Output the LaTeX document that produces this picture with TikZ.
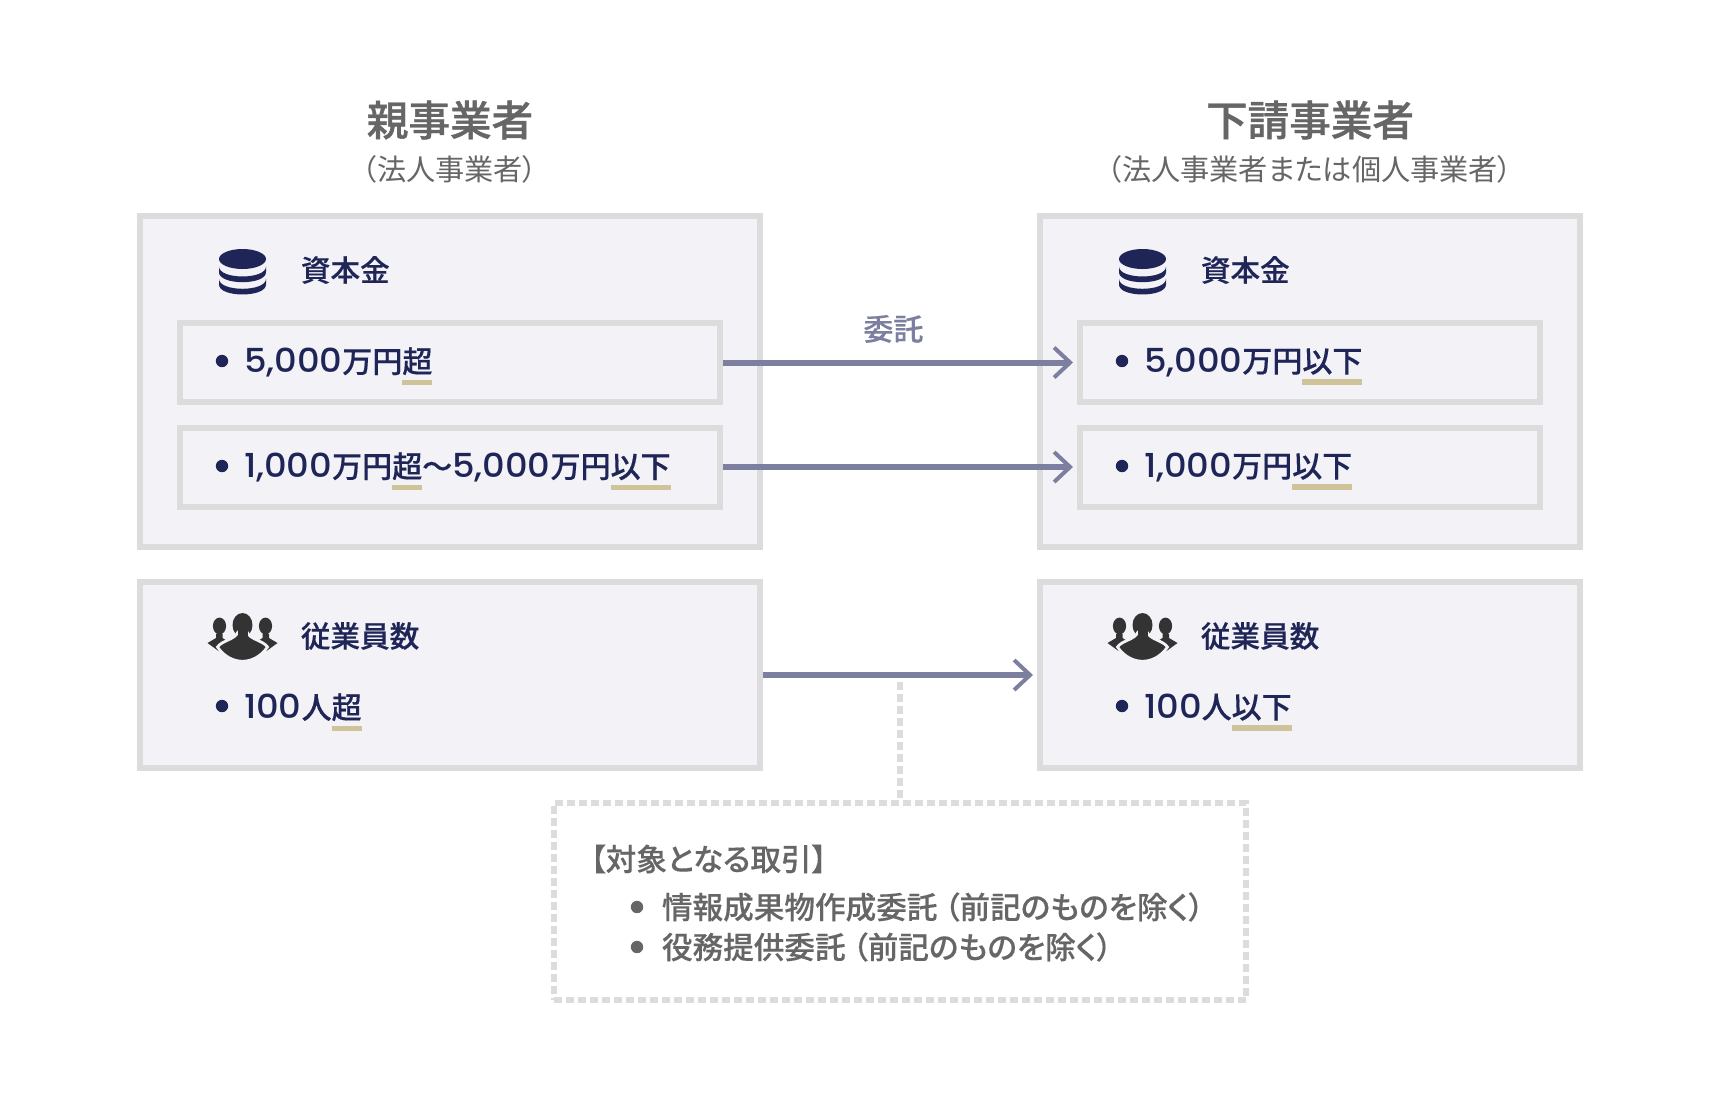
\documentclass[tikz,border=0pt]{standalone}
\usepackage{fontspec}
\setmainfont{Noto Sans CJK JP}[RawFeature={+palt}]
\newfontfamily\titlefont{Noto Sans CJK JP Medium}[RawFeature={+palt},FakeBold=1]
\newfontfamily\medfont{Noto Sans CJK JP Medium}[RawFeature={+palt},FakeBold=0.3]
\newfontfamily\plainfont{Noto Sans CJK JP Medium}[FakeBold=0.3]
\newfontfamily\ltnfont{Poppins Medium}[FakeStretch=1.07]
\usetikzlibrary{arrows.meta,positioning}
\definecolor{navy}{HTML}{1F2557}
\definecolor{boxfill}{HTML}{F2F2F7}
\definecolor{boxline}{HTML}{DCDCDC}
\definecolor{arrowc}{HTML}{7C7F9F}
\definecolor{tan}{HTML}{CFC39A}
\definecolor{greytxt}{HTML}{666666}
\newsavebox\mkbox
\newcommand\ltn[1]{{\fontsize{16.5}{18}\ltnfont #1}}
\newcommand\mk[1]{\sbox\mkbox{#1}\smash{\rlap{\color{tan}\raisebox{-6.4pt}{\rule{\wd\mkbox}{2.8pt}}}}\usebox\mkbox}
\tikzset{
	bigbox/.style={draw=boxline,fill=boxfill,line width=3pt,minimum width=#1},
	rowbox/.style={draw=boxline,fill=boxfill,line width=3pt,minimum height=39.5pt,minimum width=#1},
	flow/.style={draw=arrowc,line width=3pt,shorten >=2pt,-{Straight Barb[length=8pt,width=15pt,line width=2pt]}},
	dot/.style={circle,fill=#1,inner sep=0pt,minimum size=6.2pt},
	itemtext/.style={text=navy,font=\plainfont\fontsize{15}{18}\selectfont,inner sep=0pt,yshift=-.6pt},
	headtext/.style={text=navy,font=\medfont\fontsize{14.8}{18}\selectfont,anchor=west,inner sep=0pt},
	greytext/.style={text=greytxt,font=\medfont\fontsize{15.3}{18}\selectfont,inner sep=0pt},
	pics/coins/.style={code={
		\fill[navy] (0,-13) ellipse [x radius=11.75pt,y radius=5pt];
		\foreach \y in {-5.5,6.8} {
			\fill[navy] (-23.5,\y) .. controls (-23.5,\y+13.3) and (23.5,\y+13.3) .. (23.5,\y) -- (23.5,\y+5.7) .. controls (23.5,\y+19) and (-23.5,\y+19) .. (-23.5,\y+5.7) -- cycle;
		}
	}},
	pics/crowd/.style={code={
		\foreach \s in {1,-1} {
			\begin{scope}[xscale=\s]
				\fill[black!80] (-23,-12) ellipse [x radius=3.3pt,y radius=4.2pt];
				\fill[black!80] (-35,5) -- (-26.5,0) -- (-26.5,-4) -- (-20,-4) -- (-20,0) -- (-12,5) -- (-24,13) -- cycle;
			\end{scope}
		}
		\fill[black!80] (0,-13) ellipse [x radius=5pt,y radius=6pt];
		\filldraw[black!80,draw=boxfill,line width=1.4pt] (-25,9) .. controls (-20,2) and (-8,2) .. (-4.5,-6) -- (4.5,-6) .. controls (8,2) and (20,2) .. (25,9) .. controls (12,28) and (-12,28) .. (-25,9) -- cycle;
		\fill[black!80] (-5,-8) rectangle (5,0);
	}},
}
\begin{document}
\begin{tikzpicture}[x=.5pt,y=-.5pt]
	\useasboundingbox (0,0) rectangle (1720,1100);

	\node[font=\titlefont\fontsize{20.8}{24}\selectfont,text=greytxt] (parent) at (450,120) {親事業者};
	\node[font=\fontsize{14.6}{18}\selectfont,text=greytxt] (parentsub) at (450,169) {（法人事業者）};
	\node[font=\titlefont\fontsize{20.8}{24}\selectfont,text=greytxt] (sub) at (1310,120) {下請事業者};
	\node[font=\fontsize{14.6}{18}\selectfont,text=greytxt] (subsub) at (1310,169) {（法人事業者または個人事業者）};

	\node[bigbox=310pt,minimum height=165.5pt] (capL) at (450,381.5) {};
	\node[bigbox=270pt,minimum height=165.5pt] (capR) at (1310,381.5) {};
	\node[bigbox=310pt,minimum height=93pt] (staffL) at (450,675) {};
	\node[bigbox=270pt,minimum height=93pt] (staffR) at (1310,675) {};

	\node[rowbox=270pt] (rowLa) at (450,362.5) {};
	\node[rowbox=270pt] (rowLb) at (450,467) {};
	\node[rowbox=230pt] (rowRa) at (1310,362.5) {};
	\node[rowbox=230pt] (rowRb) at (1310,467) {};

	\foreach \x in {242.5,1142.5} {
		\pic at (\x,272) {coins};
		\pic at (\x,638) {crowd};
	}
	\foreach \x/\n in {300.5/L,1200.5/R} {
		\node[headtext] (cap\n head) at (\x,270) {資本金};
		\node[headtext] (staff\n head) at (\x,636) {従業員数};
	}

	\foreach \x/\y/\n/\t in {
		222/361/La/{\ltn{5,000}万円\mk{超}},
		222/466/Lb/{\ltn{1,000}万円\mk{超}〜\ltn{5,000}万円\mk{以下}},
		222/706/Lc/{\ltn{100}人\mk{超}},
		1122/361/Ra/{\ltn{5,000}万円\mk{以下}},
		1122/466/Rb/{\ltn{1,000}万円\mk{以下}},
		1122/706/Rc/{\ltn{100}人\mk{以下}}} {
		\node[dot=navy] (dot\n) at (\x,\y) {};
		\node[itemtext,right=7.5pt of dot\n] (item\n) {\t};
	}

	\draw[flow] (rowLa.east) -- node[above=5pt,xshift=-3.3pt,text=arrowc,font=\medfont\fontsize{15}{18}\selectfont] (entrust) {委託} (rowRa.west);
	\draw[flow] (rowLb.east) -- (rowRb.west);
	\draw[flow] (staffL.east) -- (staffR.west);

	\node[draw=boxline,line width=3pt,dash pattern=on 4pt off 2pt,minimum width=346pt,minimum height=98.5pt] (deal) at (900,901.5) {};
	\coordinate (tap) at (900,682);
	\draw[boxline,line width=3pt,dash pattern=on 4pt off 2pt] (tap) -- (deal.north);

	\node[greytext,anchor=west] (dealhead) at (590,859) {【対象となる取引】};
	\node[dot=greytxt] (dotA) at (637,907) {};
	\node[greytext,right=9pt of dotA] (dealA) {情報成果物作成委託 （前記のものを除く）};
	\node[dot=greytxt] (dotB) at (637,947) {};
	\node[greytext,right=9pt of dotB] (dealB) {役務提供委託 （前記のものを除く）};
\end{tikzpicture}
\end{document}
